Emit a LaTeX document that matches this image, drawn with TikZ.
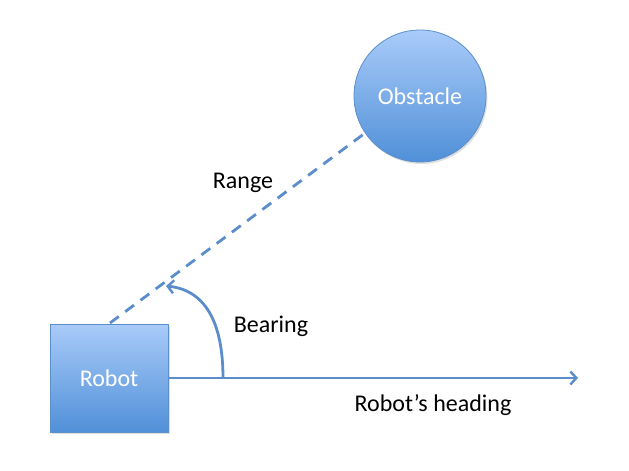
\documentclass[tikz,border=0pt]{standalone}
\usepackage{fontspec}
\setmainfont{Carlito}
\usetikzlibrary{arrows.meta,shadows}
\definecolor{topblue}{HTML}{A9CBF9}
\definecolor{botblue}{HTML}{5090D8}
\definecolor{edgeblue}{HTML}{5B8FCB}
\definecolor{lineblue}{HTML}{5A8DC9}
\tikzset{
  shapebox/.style={draw=edgeblue, line width=0.8pt, top color=topblue, bottom color=botblue,
    text=white, font=\fontsize{24}{28}\selectfont, drop shadow={shadow xshift=1.5pt, shadow yshift=-2pt, opacity=0.25}},
  conn/.style={draw=lineblue, line width=2.8pt},
  tip/.style={-{Straight Barb[length=6pt,width=13pt,line width=2.4pt]}},
  lbl/.style={font=\fontsize{24}{28}\selectfont, text=black}
}
\begin{document}
\begin{tikzpicture}[x=1pt,y=-1pt]
\useasboundingbox (0,0) rectangle (629,471);
\node[shapebox, rectangle, minimum width=118pt, minimum height=108pt, inner sep=0pt] (robot) at (109,378) {Robot};
\node[shapebox, circle, minimum size=132pt, inner sep=0pt] (obst) at (420,96) {Obstacle};
\coordinate (rtop) at (110,323);
\coordinate (head) at (578,378);
\coordinate (arcstart) at (223,378);
\coordinate (arcend) at (166,286);
\draw[conn, dash pattern=on 11pt off 8pt] (rtop) -- (obst.214);
\draw[conn, tip] (robot.east) -- (head);
\draw[conn, tip] (arcstart) .. controls (223,322) and (205,290) .. (arcend);
\node[lbl] (range) at (243,183) {Range};
\node[lbl] (bearing) at (271,326) {Bearing};
\node[lbl] (heading) at (433,405) {Robot’s heading};
\end{tikzpicture}
\end{document}
